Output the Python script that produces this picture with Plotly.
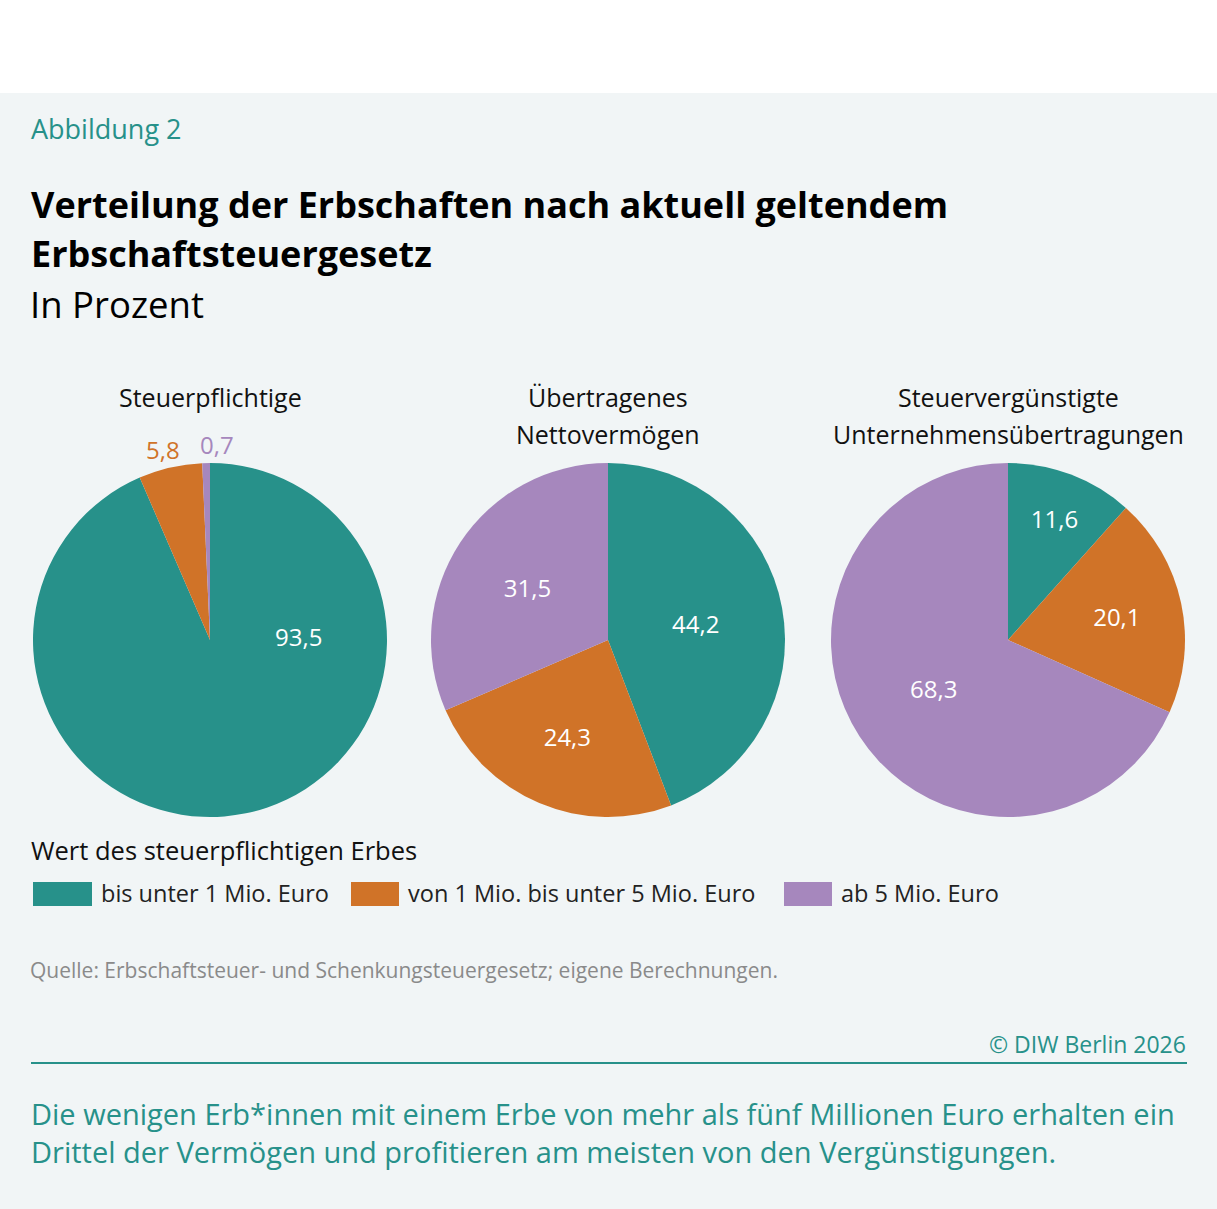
import plotly.graph_objects as go

W, H = 1217, 1209

categories = ["bis unter 1 Mio. Euro", "von 1 Mio. bis unter 5 Mio. Euro", "ab 5 Mio. Euro"]
colors = ["#27918a", "#d07328", "#a687bd"]
pie_titles = [["Steuerpflichtige"], ["Übertragenes", "Nettovermögen"],
              ["Steuervergünstigte", "Unternehmensübertragungen"]]
steuerpflichtige = [93.5, 5.8, 0.7]
nettovermoegen = [44.2, 24.3, 31.5]
unternehmen = [11.6, 20.1, 68.3]

TEAL = "#27918a"
BG = "#f1f5f6"
FONT = "Open Sans, Noto Sans, sans-serif"


def X(px):
    return px / W


def Y(py):
    return 1 - py / H


fig = go.Figure()

pie_x = [(33, 387), (431, 785), (831, 1185)]
pie_y = (463, 817)
series = [steuerpflichtige, nettovermoegen, unternehmen]

for i, vals in enumerate(series):
    x0, x1 = pie_x[i]
    fig.add_trace(go.Pie(
        labels=categories,
        values=vals,
        sort=False,
        direction="clockwise",
        rotation=0,
        marker=dict(colors=colors, line=dict(width=0)),
        domain=dict(x=[X(x0), X(x1)], y=[Y(pie_y[1]), Y(pie_y[0])]),
        texttemplate="%{value:.1f}",
        textposition="none" if i == 0 else "inside",
        insidetextorientation="horizontal",
        insidetextfont=dict(color="white", size=24, family=FONT),
        showlegend=False,
        hoverinfo="label+value",
    ))

# labels for the first pie (placed like the reference)
lab_pos = [(298, 636), (163, 450), (217, 444)]
lab_col = ["white", colors[1], colors[2]]
annotations = []
for v, (px, py), c in zip(steuerpflichtige, lab_pos, lab_col):
    annotations.append(dict(
        x=X(px), y=Y(py), xref="paper", yref="paper", xanchor="center", yanchor="middle",
        text=f"{v:.1f}".replace(".", ","), showarrow=False,
        font=dict(size=24, color=c, family=FONT)))

# pie titles
centers = [210, 608, 1008]
for lines, cx in zip(pie_titles, centers):
    for k, line in enumerate(lines):
        annotations.append(dict(
            x=X(cx), y=Y(397 + 37 * k), xref="paper", yref="paper", xanchor="center",
            yanchor="middle", text=line, showarrow=False,
            font=dict(size=25, color="#111111", family=FONT)))

# header texts
annotations += [
    dict(x=X(29), y=Y(128), xref="paper", yref="paper", xanchor="left", yanchor="middle",
         text="Abbildung 2", showarrow=False, font=dict(size=27, color=TEAL, family=FONT)),
    dict(x=X(29), y=Y(204), xref="paper", yref="paper", xanchor="left", yanchor="middle",
         text="<b>Verteilung der Erbschaften nach aktuell geltendem</b>",
         showarrow=False, font=dict(size=36, color="#000000", family=FONT)),
    dict(x=X(29), y=Y(254), xref="paper", yref="paper", xanchor="left", yanchor="middle",
         text="<b>Erbschaftsteuergesetz</b>",
         showarrow=False, font=dict(size=36, color="#000000", family=FONT)),
    dict(x=X(28), y=Y(304), xref="paper", yref="paper", xanchor="left", yanchor="middle",
         text="In Prozent", showarrow=False, font=dict(size=36.5, color="#000000", family=FONT)),
    dict(x=X(29), y=Y(850), xref="paper", yref="paper", xanchor="left", yanchor="middle",
         text="Wert des steuerpflichtigen Erbes", showarrow=False,
         font=dict(size=25.5, color="#111111", family=FONT)),
    dict(x=X(28), y=Y(970), xref="paper", yref="paper", xanchor="left", yanchor="middle",
         text="Quelle: Erbschaftsteuer- und Schenkungsteuergesetz; eigene Berechnungen.",
         showarrow=False, font=dict(size=21, color="#8a8a8a", family=FONT)),
    dict(x=X(1188), y=Y(1044), xref="paper", yref="paper", xanchor="right", yanchor="middle",
         text="© DIW Berlin 2026", showarrow=False, font=dict(size=23, color=TEAL, family=FONT)),
    dict(x=X(29), y=Y(1113), xref="paper", yref="paper", xanchor="left", yanchor="middle",
         text="Die wenigen Erb*innen mit einem Erbe von mehr als fünf Millionen Euro erhalten ein",
         showarrow=False, font=dict(size=29, color=TEAL, family=FONT)),
    dict(x=X(29), y=Y(1151), xref="paper", yref="paper", xanchor="left", yanchor="middle",
         text="Drittel der Vermögen und profitieren am meisten von den Vergünstigungen.",
         showarrow=False, font=dict(size=29, color=TEAL, family=FONT)),
]

# legend (manual)
swatches = [(33, 92), (351, 399), (784, 832)]
shapes = [
    dict(type="rect", xref="paper", yref="paper", x0=0, x1=1, y0=Y(93), y1=1,
         fillcolor="white", line=dict(width=0), layer="below"),
    dict(type="line", xref="paper", yref="paper", x0=X(31), x1=X(1187), y0=Y(1063), y1=Y(1063),
         line=dict(color=TEAL, width=2)),
]
for (sx0, sx1), c, lab in zip(swatches, colors, categories):
    shapes.append(dict(type="rect", xref="paper", yref="paper", x0=X(sx0), x1=X(sx1),
                       y0=Y(906), y1=Y(882), fillcolor=c, line=dict(width=0)))
    annotations.append(dict(x=X(sx1 + 7), y=Y(893), xref="paper", yref="paper",
                            xanchor="left", yanchor="middle", text=lab, showarrow=False,
                            font=dict(size=23.5, color="#222222", family=FONT)))

fig.update_layout(
    width=W, height=H,
    margin=dict(l=0, r=0, t=0, b=0),
    paper_bgcolor=BG, plot_bgcolor=BG,
    separators=",.",
    annotations=annotations,
    shapes=shapes,
    showlegend=False,
    font=dict(family=FONT),
)

fig.write_html("out.html")
